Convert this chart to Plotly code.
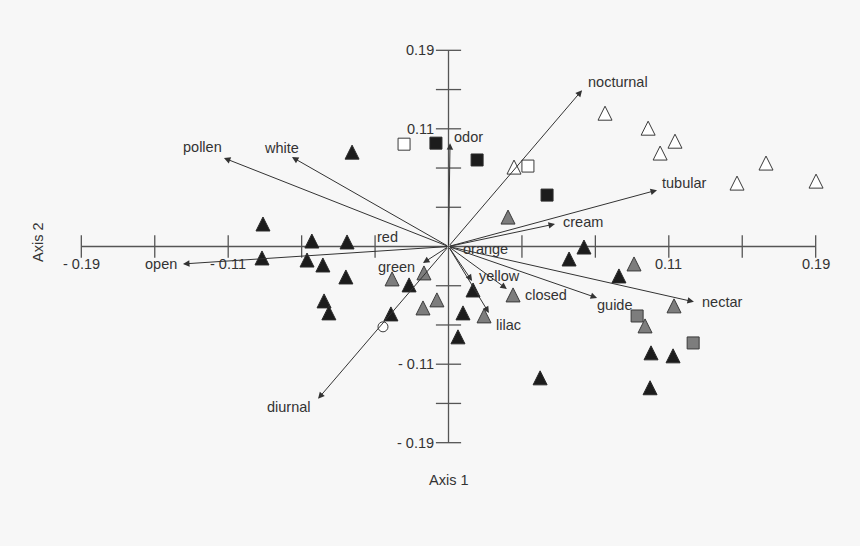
import plotly.graph_objects as go

# ---------------- data ----------------
tick_vals = [-0.19, -0.152, -0.114, -0.076, -0.038, 0.038, 0.076, 0.114, 0.152, 0.19]
label_vals = [-0.19, -0.114, 0.114, 0.19]
label_text = ["- 0.19", "- 0.11", "0.11", "0.19"]

black_tri_x = [-0.0499, -0.0960, -0.0707, -0.0525, -0.0965, -0.0732, -0.0650, -0.0531, -0.0644, -0.0619,
               -0.0298, -0.0204, 0.0127, 0.0075, 0.0049, 0.0474, 0.0624, 0.0701, 0.0882, 0.1048, 0.1162, 0.1043]
black_tri_y = [0.0914, 0.0218, 0.0053, 0.0044, -0.0111, -0.0131, -0.0179, -0.0295, -0.0527, -0.0643,
               -0.0653, -0.0372, -0.0421, -0.0643, -0.0875, -0.1272, -0.0121, -0.0005, -0.0285, -0.1030, -0.1059, -0.1368]

gray_tri_x = [-0.0292, -0.0127, -0.0060, -0.0132, 0.0184, 0.0334, 0.0308, 0.0960, 0.1167, 0.1017]
gray_tri_y = [-0.0314, -0.0256, -0.0517, -0.0595, -0.0672, -0.0469, 0.0285, -0.0169, -0.0575, -0.0769]

white_tri_x = [0.0339, 0.0810, 0.1033, 0.1172, 0.1095, 0.1643, 0.1493, 0.1902]
white_tri_y = [0.0769, 0.1291, 0.1146, 0.1020, 0.0905, 0.0808, 0.0614, 0.0633]

black_sq_x = [-0.0065, 0.0148, 0.0510]
black_sq_y = [0.1001, 0.0838, 0.0498]
white_sq_x = [-0.0230, 0.0411]
white_sq_y = [0.0991, 0.0779]
gray_sq_x = [0.0976, 0.1266]
gray_sq_y = [-0.0673, -0.0934]

circle_x = [-0.0339]
circle_y = [-0.0778]

vec_names = ["nocturnal", "tubular", "cream", "odor", "pollen", "white", "open", "green",
             "yellow", "lilac", "closed", "guide", "nectar", "diurnal"]
vec_x = [0.0691, 0.1079, 0.0551, 0.0008, -0.1162, -0.0810, -0.1374, -0.0132,
         0.0122, 0.0209, 0.0302, 0.0769, 0.1270, -0.0675]
vec_y = [0.1514, 0.0546, 0.0218, 0.1001, 0.0857, 0.0866, -0.0169, -0.0160,
         -0.0334, -0.0643, -0.0411, -0.0498, -0.0536, -0.1475]

# short vectors lying on the horizontal axis (no visible head)
short_names = ["red", "orange"]
short_x = [-0.035, 0.006]
short_y = [0.0, 0.0]

# ---------------- style ----------------
FONT = "Liberation Sans, Arial, sans-serif"
TXT = "#333333"
AX = "#555555"
BG = "#f7f7f7"

# label placement: (xanchor, xshift, yshift)
vec_label_pos = {
    "nocturnal": ("left", 4, 8), "tubular": ("left", 3, 7), "cream": ("left", 6, 2),
    "odor": ("left", 2, 6), "pollen": ("center", -21, 11), "white": ("center", -10, 9),
    "open": ("right", -4, 0), "green": ("right", -6, -4), "yellow": ("left", 5, 5),
    "lilac": ("left", 5, -12), "closed": ("left", 16, -6), "guide": ("left", -2, -7),
    "nectar": ("left", 6, 0), "diurnal": ("right", -5, -8),
    "red": ("left", -6, 10), "orange": ("left", 1, -2),
}

fig = go.Figure()

TRI = 14
def tri_marker(fill, outline):
    return dict(symbol="arrow-down", angle=180, standoff=TRI / 2, size=TRI,
                color=fill, line=dict(color=outline, width=1))

lo, hi = tick_vals[0], tick_vals[-1]
# axis lines
fig.add_trace(go.Scatter(x=[lo, hi], y=[0, 0], mode="lines", line=dict(color=AX, width=1.3),
                         hoverinfo="skip", cliponaxis=False))
fig.add_trace(go.Scatter(x=[0, 0], y=[lo, hi], mode="lines", line=dict(color=AX, width=1.3),
                         hoverinfo="skip", cliponaxis=False))
# axis ticks
fig.add_trace(go.Scatter(x=tick_vals, y=[0] * len(tick_vals), mode="markers",
                         marker=dict(symbol="line-ns", size=16, line=dict(color=AX, width=1.3)),
                         hoverinfo="skip", cliponaxis=False))
fig.add_trace(go.Scatter(x=[0] * len(tick_vals), y=tick_vals, mode="markers",
                         marker=dict(symbol="line-ew", size=18, line=dict(color=AX, width=1.3)),
                         hoverinfo="skip", cliponaxis=False))

fig.add_trace(go.Scatter(x=black_tri_x, y=black_tri_y, mode="markers",
                         marker=tri_marker("#1c1c1c", "#2a2a2a"), cliponaxis=False))
fig.add_trace(go.Scatter(x=gray_tri_x, y=gray_tri_y, mode="markers",
                         marker=tri_marker("#7d7d7d", "#3a3a3a"), cliponaxis=False))
fig.add_trace(go.Scatter(x=white_tri_x, y=white_tri_y, mode="markers",
                         marker=tri_marker("#ffffff", "#3a3a3a"), cliponaxis=False))
fig.add_trace(go.Scatter(x=black_sq_x, y=black_sq_y, mode="markers",
                         marker=dict(symbol="square", size=12, color="#1c1c1c",
                                     line=dict(color="#2a2a2a", width=1)), cliponaxis=False))
fig.add_trace(go.Scatter(x=white_sq_x, y=white_sq_y, mode="markers",
                         marker=dict(symbol="square", size=12, color="#ffffff",
                                     line=dict(color="#3a3a3a", width=1)), cliponaxis=False))
fig.add_trace(go.Scatter(x=gray_sq_x, y=gray_sq_y, mode="markers",
                         marker=dict(symbol="square", size=12, color="#7d7d7d",
                                     line=dict(color="#3a3a3a", width=1)), cliponaxis=False))
fig.add_trace(go.Scatter(x=circle_x, y=circle_y, mode="markers",
                         marker=dict(symbol="circle", size=10, color="#ffffff",
                                     line=dict(color="#3a3a3a", width=1)), cliponaxis=False))

annotations = []
for n, vx, vy in zip(vec_names, vec_x, vec_y):
    annotations.append(dict(x=vx, y=vy, ax=0, ay=0, axref="x", ayref="y", xref="x", yref="y",
                            text="", showarrow=True, arrowhead=2, arrowsize=1.3, arrowwidth=1,
                            arrowcolor="#333333", standoff=0, startstandoff=0))
for n, vx, vy in zip(list(vec_names) + short_names, list(vec_x) + short_x, list(vec_y) + short_y):
    xa, xs, ys = vec_label_pos[n]
    annotations.append(dict(x=vx, y=vy, xref="x", yref="y", text=n, showarrow=False,
                            xanchor=xa, yanchor="middle", xshift=xs, yshift=ys,
                            font=dict(family=FONT, size=14.5, color=TXT)))
# tick labels
for v, t in zip(label_vals, label_text):
    annotations.append(dict(x=v, y=0, xref="x", yref="y", text=t, showarrow=False,
                            xanchor="center", yanchor="middle", yshift=-17,
                            font=dict(family=FONT, size=14.5, color=TXT)))
    annotations.append(dict(x=0, y=v, xref="x", yref="y", text=t, showarrow=False,
                            xanchor="right", yanchor="middle", xshift=-13,
                            font=dict(family=FONT, size=14.5, color=TXT)))
# axis titles
annotations.append(dict(x=0.5006, y=-0.0654, xref="paper", yref="paper", text="Axis 1", showarrow=False,
                        xanchor="center", yanchor="middle", font=dict(family=FONT, size=14.5, color=TXT)))
annotations.append(dict(x=-0.031, y=0.511, xref="paper", yref="paper", text="Axis 2", showarrow=False,
                        textangle=-90, xanchor="center", yanchor="middle",
                        font=dict(family=FONT, size=14.5, color=TXT)))

axis_common = dict(range=[-0.2, 0.2], showgrid=False, showticklabels=False, ticks="",
                   showline=False, zeroline=False, fixedrange=True)

fig.update_layout(
    width=860, height=546,
    margin=dict(l=62, r=25, t=40, b=93),
    paper_bgcolor=BG, plot_bgcolor=BG,
    showlegend=False,
    xaxis=axis_common, yaxis=axis_common,
    annotations=annotations,
    font=dict(family=FONT, color=TXT),
)

fig.write_html("out.html", config={"displayModeBar": False},
               post_script="document.body.style.margin='0';document.body.style.background='%s';" % BG)
